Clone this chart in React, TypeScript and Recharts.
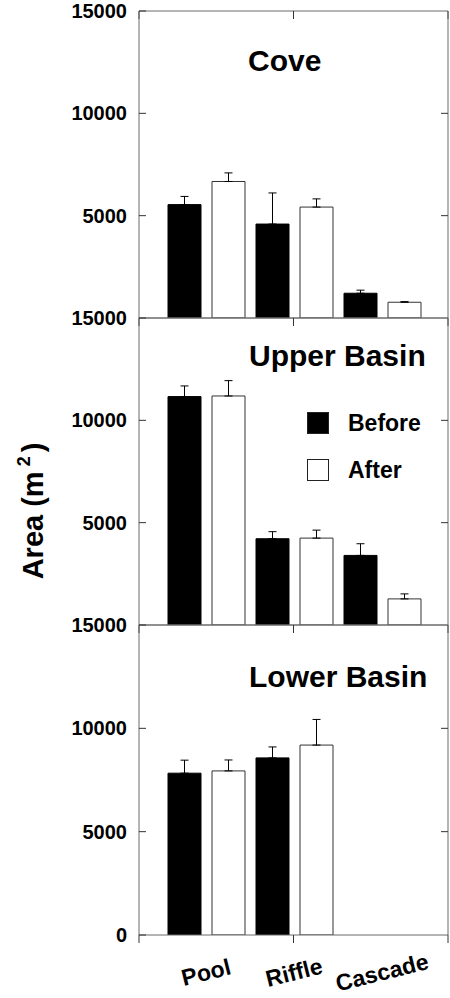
import { BarChart, Bar, XAxis, YAxis, ErrorBar, Legend } from 'recharts';

const categories = ['Pool', 'Riffle', 'Cascade'];

// Cove
const coveBefore = [5540, 4590, 1210];
const coveBeforeErr = [400, 1520, 150];
const coveAfter = [6670, 5420, 770];
const coveAfterErr = [420, 400, 30];

// Upper Basin
const upperBefore = [11160, 4215, 3400];
const upperBeforeErr = [520, 345, 570];
const upperAfter = [11190, 4245, 1275];
const upperAfterErr = [750, 390, 245];

// Lower Basin (no cascades)
const lowerBefore = [7830, 8570, null];
const lowerBeforeErr = [630, 530, null];
const lowerAfter = [7940, 9190, null];
const lowerAfterErr = [530, 1240, null];

const yTicks = [0, 5000, 10000, 15000];
const slotTicks = [0, 1, 2, 3, 4, 5, 6, 7];

const series = [
  { key: 'before', name: 'Before', fill: '#000' },
  { key: 'after', name: 'After', fill: '#fff' },
];

const FONT = '"Liberation Sans", Arial, sans-serif';
const AXIS = '#6b6b6b';
const TICK = '#333';

type Row = { name: string; before: number | null; beforeErr: number | null; after: number | null; afterErr: number | null };

const makeRows = (b: (number | null)[], be: (number | null)[], a: (number | null)[], ae: (number | null)[]): Row[] =>
  categories.map((name, i) => ({ name, before: b[i], beforeErr: be[i], after: a[i], afterErr: ae[i] }));

const blank = () => <g />;

const CatTick = (props: any) => {
  const { x, y, payload } = props;
  const cx = x + 2;
  const cy = y + 45;
  return (
    <text x={cx} y={cy} transform={`rotate(-14 ${cx} ${cy})`} textAnchor="middle"
      fontSize={23} fontWeight="bold" fontFamily={FONT} fill="#000">
      {payload.value}
    </text>
  );
};

const LegendBox = () => (
  <svg width={160} height={80} style={{ display: 'block', overflow: 'visible' }}>
    {series.map((s, i) => (
      <g key={s.key} transform={`translate(0, ${i * 47})`}>
        <rect x={0.5} y={0.5} width={21} height={21} fill={s.fill} stroke="#222" />
        <text x={41} y={19} fontSize={23} fontWeight="bold" fontFamily={FONT} fill="#000">{s.name}</text>
      </g>
    ))}
  </svg>
);

type PanelProps = {
  rows: Row[];
  top: number;
  plotTop: number;
  plotHeight: number;
  last?: boolean;
  legend?: boolean;
};

function Panel({ rows, top, plotTop, plotHeight, last, legend }: PanelProps) {
  const bottom = last ? 0 : 2;
  const height = plotTop + plotHeight + bottom + (last ? 60 : 0);
  return (
    <div style={{ position: 'absolute', left: 0, top }}>
      <BarChart width={450} height={height} data={rows} barSize={33} barGap={11}
        margin={{ top: plotTop, right: 0, bottom, left: 0 }}>
        <XAxis dataKey="name" hide={!last} height={60} padding={{ left: 23, right: 22 }}
          tickLine={false} axisLine={false} tickSize={0} tickMargin={0} interval={0} tick={<CatTick />} />
        <XAxis xAxisId="top" orientation="top" mirror type="number" scale="linear" domain={[0, 7]} allowDataOverflow
          ticks={slotTicks} interval={0} tickSize={8} tick={blank} axisLine={{ stroke: AXIS }}
          tickLine={{ stroke: TICK }} />
        <XAxis xAxisId="bot" orientation="bottom" mirror type="number" scale="linear" domain={[0, 7]} allowDataOverflow
          ticks={slotTicks} interval={0} tickSize={last ? -8 : 0} tick={blank} axisLine={{ stroke: AXIS }}
          tickLine={last ? { stroke: TICK } : false} />
        <YAxis domain={[0, 15000]} ticks={last ? yTicks : yTicks.slice(1)} interval={0} width={139}
          allowDataOverflow tickSize={-7} tickMargin={19} axisLine={{ stroke: AXIS }} tickLine={{ stroke: TICK }}
          tick={{ fill: '#000', fontSize: 20, fontWeight: 'bold', fontFamily: FONT }} />
        <YAxis yAxisId="r" orientation="right" width={2} domain={[0, 15000]} allowDataOverflow ticks={[5000, 10000]}
          interval={0} tickSize={-7} tick={blank} axisLine={{ stroke: AXIS }} tickLine={{ stroke: TICK }} />
        <Bar dataKey="before" name="Before" fill="#000" stroke="#000" isAnimationActive={false}>
          <ErrorBar dataKey={(d: Row) => (d.beforeErr == null ? null : [0, d.beforeErr])} width={4}
            stroke="#000" strokeWidth={1} direction="y" isAnimationActive={false} />
        </Bar>
        <Bar dataKey="after" name="After" fill="#fff" stroke="#333" isAnimationActive={false}>
          <ErrorBar dataKey={(d: Row) => (d.afterErr == null ? null : [0, d.afterErr])} width={4}
            stroke="#000" strokeWidth={1} direction="y" isAnimationActive={false} />
        </Bar>
        {legend && (
          <Legend layout="horizontal" verticalAlign="middle" align="center"
            wrapperStyle={{ left: 307, top: 106, width: 160, height: 80 }} content={<LegendBox />} />
        )}
      </BarChart>
    </div>
  );
}

export default function App() {
  return (
    <div style={{ position: 'absolute', left: 0, top: 0, width: 450, height: 998, background: '#fff' }}>
      <Panel rows={makeRows(coveBefore, coveBeforeErr, coveAfter, coveAfterErr)} top={0} plotTop={11} plotHeight={307} />
      <Panel rows={makeRows(upperBefore, upperBeforeErr, upperAfter, upperAfterErr)} top={306} plotTop={12} plotHeight={307} legend />
      <Panel rows={makeRows(lowerBefore, lowerBeforeErr, lowerAfter, lowerAfterErr)} top={613} plotTop={12} plotHeight={310} last />
      <svg width={450} height={998} style={{ position: 'absolute', left: 0, top: 0, pointerEvents: 'none' }}>
        <g fontFamily={FONT} fontWeight="bold" fill="#000">
          <text x={248} y={71} fontSize={30}>Cove</text>
          <text x={249} y={366} fontSize={30}>Upper Basin</text>
          <text x={249} y={687} fontSize={30}>Lower Basin</text>
          <text x={43} y={511} fontSize={29} textAnchor="middle" transform="rotate(-90 43 511)">
            Area (m<tspan dx={5} dy={-13} fontSize={18}>2</tspan><tspan dx={4} dy={13}>)</tspan>
          </text>
        </g>
      </svg>
    </div>
  );
}
